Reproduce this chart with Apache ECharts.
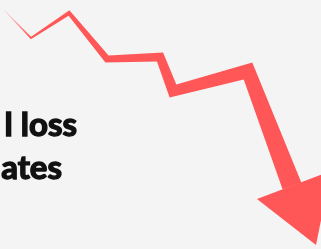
<!DOCTYPE html>
<html>
<head>
<meta charset="utf-8">
<script src="https://cdn.jsdelivr.net/npm/echarts@6/dist/echarts.min.js"></script>
<style>
  html, body { margin: 0; padding: 0; background: #f4f4f4; }
  #chart { width: 321px; height: 249px; }
</style>
</head>
<body>
<div id="chart"></div>
<script>
// trend line points (x across, y downwards)
var lineX = [4, 31, 69, 107, 160, 173, 248, 292];
var lineY = [10, 38, 13, 59, 57, 91, 71, 186];
// arrow head: left corner, tip, right corner
var headX = [257, 316, 331];
var headY = [199, 245, 171];
var textLines = ['l loss', 'ates'];

var red = '#ff5757';

var myChart = echarts.init(document.getElementById('chart'));

function taperedPolygon(p, widths) {
  var left = [], right = [];
  for (var i = 0; i < p.length; i++) {
    var n1 = null, n2 = null;
    if (i > 0) {
      var dx = p[i][0] - p[i - 1][0], dy = p[i][1] - p[i - 1][1];
      var l = Math.sqrt(dx * dx + dy * dy);
      n1 = [-dy / l, dx / l];
    }
    if (i < p.length - 1) {
      var dx2 = p[i + 1][0] - p[i][0], dy2 = p[i + 1][1] - p[i][1];
      var l2 = Math.sqrt(dx2 * dx2 + dy2 * dy2);
      n2 = [-dy2 / l2, dx2 / l2];
    }
    var m, scale = 1;
    if (n1 && n2) {
      m = [n1[0] + n2[0], n1[1] + n2[1]];
      var ml = Math.sqrt(m[0] * m[0] + m[1] * m[1]);
      m = [m[0] / ml, m[1] / ml];
      scale = 1 / Math.max(0.3, m[0] * n1[0] + m[1] * n1[1]);
    } else {
      m = n1 || n2;
    }
    var h = widths[i] / 2 * scale;
    left.push([p[i][0] + m[0] * h, p[i][1] + m[1] * h]);
    right.push([p[i][0] - m[0] * h, p[i][1] - m[1] * h]);
  }
  return left.concat(right.reverse());
}

var textStyle = {
  fill: '#111', stroke: '#111', lineWidth: 1.4,
  font: 'bold 33px Lato', textAlign: 'right', textVerticalAlign: 'middle'
};

var option = {
  backgroundColor: '#f4f4f4',
  animation: false,
  grid: { left: 0, right: 0, top: 0, bottom: 0 },
  xAxis: { type: 'value', min: 0, max: 321, show: false },
  yAxis: { type: 'value', min: 0, max: 249, inverse: true, show: false },
  graphic: [
    {
      type: 'text', x: 77, y: 125,
      style: Object.assign({ text: textLines[0] }, textStyle)
    },
    {
      type: 'text', x: 62, y: 168,
      style: Object.assign({ text: textLines[1] }, textStyle)
    }
  ],
  series: [{
    type: 'custom',
    silent: true,
    data: [0],
    renderItem: function (params, api) {
      var pts = lineX.map(function (x, i) { return api.coord([x, lineY[i]]); });
      var widths = [0.5, 2, 4, 7, 9, 11, 14, 20];
      var head = headX.map(function (x, i) { return api.coord([x, headY[i]]); });
      return {
        type: 'group',
        children: [
          {
            type: 'polygon',
            shape: { points: taperedPolygon(pts, widths) },
            style: {
              fill: new echarts.graphic.LinearGradient(pts[0][0], 0, pts[1][0], 0, [
                { offset: 0, color: 'rgba(255,87,87,0.15)' },
                { offset: 1, color: red }
              ], true)
            }
          },
          {
            type: 'polygon',
            shape: { points: head },
            style: { fill: red }
          }
        ]
      };
    }
  }]
};
myChart.setOption(option);
</script>
</body>
</html>
